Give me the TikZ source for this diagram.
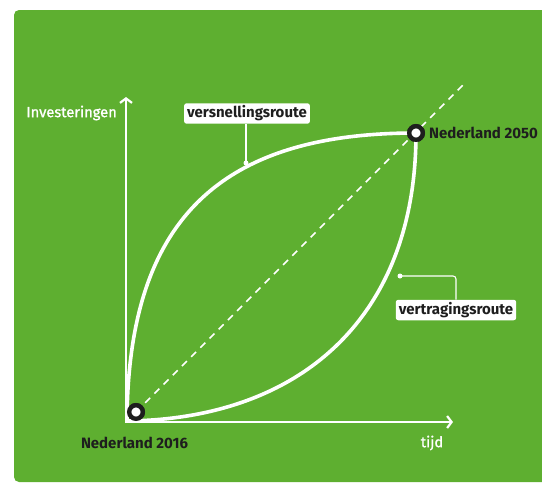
\documentclass[tikz,border=0pt]{standalone}
\usepackage{fontspec}
\setmainfont{Fira Sans}
\newfontfamily\medfont{Fira Sans}[FakeBold=1.2]
\usetikzlibrary{arrows.meta}
\definecolor{bg}{HTML}{5EAF30}
\definecolor{ink}{HTML}{1E1E1E}
\begin{document}
\begin{tikzpicture}[x=1pt,y=-1pt,
 axis/.style={draw=white, line width=2.4pt, -{Straight Barb[length=4.5pt,width=12pt,line width=2.2pt]}},
 route/.style={draw=white, line width=3.6pt},
 diag/.style={draw=white, line width=1.6pt, dash pattern=on 7pt off 6pt},
 leader/.style={draw=white, line width=1.1pt},
 endpt/.style={circle, draw=ink, line width=4.4pt, fill=white, minimum size=13.6pt, inner sep=0pt},
 lbl/.style={font=\bfseries\fontsize{15}{17}\selectfont, text=ink, inner sep=0pt},
 tag/.style={lbl, fill=white, rounded corners=2.5pt, inner xsep=3pt, inner ysep=2.5pt},
 axlbl/.style={font=\medfont\fontsize{14.7}{17}\selectfont, text=white, inner sep=0pt},
 dot/.style={circle, fill=white, inner sep=0pt, minimum size=5pt}]
\useasboundingbox (0,0) rectangle (542,485);
\fill[bg, rounded corners=5pt] (14,10) rectangle (570,482);

% reference points
\coordinate (O) at (127,421);
\coordinate (ytip) at (126,97);
\coordinate (xtip) at (453,422);
\coordinate (dtop) at (466,82);

% axes
\draw[axis] (126,423) -- (ytip);
\draw[axis] (125,422) -- (xtip);

% diagonal
\node[endpt] (s) at (136,412) {};
\node[endpt] (e) at (416,133) {};
\draw[diag] (s.center) -- (dtop);

% routes
\draw[route] (O) .. controls (128,215) and (225,133) .. (e.center);
\draw[route] (O) .. controls (300,419) and (416,318) .. (e.center);

% redraw endpoints on top
\node[endpt] at (s) {};
\node[endpt] at (e) {};

% labels
\node[axlbl, anchor=east] (inv) at (117,113) {Investeringen};
\node[axlbl] (tijd) at (432,443) {tijd};
\node[lbl] (n16) at (134.5,443) {Nederland 2016};
\node[lbl, anchor=west] (n50) at (429,133) {Nederland 2050};

\node[tag] (vs) at (247,113.5) {versnellingsroute};
\node[dot] (vsd) at (246,163) {};
\draw[leader] (vsd.center) -- (vsd.center |- vs.south);

\node[tag] (vt) at (456,310) {vertragingsroute};
\node[dot] (vtd) at (400,276) {};
\draw[leader, rounded corners=3pt] (vtd.center) -- (vt.north |- vtd.center) -- (vt.north);
\end{tikzpicture}
\end{document}
